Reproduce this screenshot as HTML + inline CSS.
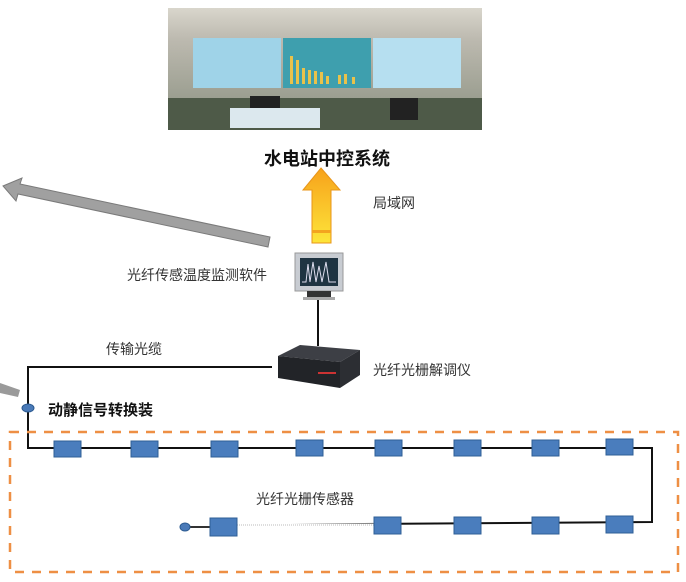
<!DOCTYPE html>
<html><head><meta charset="utf-8"><style>
body{margin:0;width:686px;height:582px;background:#fff;position:relative;overflow:hidden;font-family:"Liberation Sans","Noto Sans CJK SC",sans-serif;color:#333}
.t{position:absolute;white-space:nowrap}
</style></head><body>
<svg width="686" height="582" style="position:absolute;left:0;top:0">
<defs>
<linearGradient id="og" x1="0" y1="0" x2="0" y2="1"><stop offset="0" stop-color="#f7a21b"/><stop offset="1" stop-color="#fde53a"/></linearGradient>
<linearGradient id="sky" x1="0" y1="0" x2="0" y2="1"><stop offset="0" stop-color="#d9d6cc"/><stop offset="0.25" stop-color="#bdbab0"/><stop offset="1" stop-color="#8a9080"/></linearGradient>
</defs>
<rect x="168" y="8" width="314" height="122" fill="url(#sky)"/>
<rect x="193" y="38" width="88" height="50" fill="#9fd3e8"/>
<rect x="283" y="38" width="88" height="50" fill="#3e9fae"/>
<rect x="373" y="38" width="88" height="50" fill="#b6dff0"/>
<g fill="#e9c24a"><rect x="290" y="56" width="3" height="28"/><rect x="296" y="60" width="3" height="24"/><rect x="302" y="68" width="3" height="16"/><rect x="308" y="70" width="3" height="14"/><rect x="314" y="71" width="3" height="13"/><rect x="320" y="72" width="3" height="12"/><rect x="326" y="76" width="3" height="8"/><rect x="338" y="75" width="3" height="9"/><rect x="344" y="74" width="3" height="10"/><rect x="352" y="77" width="3" height="7"/></g>
<rect x="168" y="98" width="314" height="32" fill="#4e5a48"/>
<rect x="230" y="108" width="90" height="20" fill="#dce8ee"/>
<rect x="250" y="96" width="30" height="12" fill="#222"/>
<rect x="390" y="98" width="28" height="22" fill="#222"/>
<!-- gray arrow -->
<polygon points="270,237 20,184 22,178 3,186 16,201 18,194 268,247" fill="#a0a0a0" stroke="#7a7a7a" stroke-width="1"/>
<polygon points="0,383 20,390 18,397 0,393" fill="#9a9a9a"/>
<polygon points="321,168 340,190 331,190 331,243 312,243 312,190 303,190" fill="url(#og)" stroke="#e8951a" stroke-width="1"/>
<rect x="312" y="230" width="19" height="3" fill="#f3a41f"/>
<rect x="295" y="253" width="48" height="38" fill="#c8ccd2" stroke="#999"/>
<rect x="300" y="258" width="38" height="28" fill="#1f3442"/>
<polyline points="302,282 306,282 308,264 310,282 313,262 316,282 319,266 322,282 326,262 329,282 336,282" fill="none" stroke="#dde" stroke-width="1"/>
<rect x="307" y="291" width="24" height="7" fill="#333"/>
<rect x="303" y="297" width="32" height="3" fill="#aaa"/>
<line x1="318" y1="300" x2="318" y2="346" stroke="#111" stroke-width="2"/>
<polygon points="278,356 300,345 360,350 340,362" fill="#3d3f45"/>
<polygon points="278,356 340,362 340,388 278,378" fill="#222428"/>
<polygon points="340,362 360,350 360,375 340,388" fill="#2c2e33"/>
<rect x="318" y="372" width="18" height="2" fill="#c33"/>
<polyline points="272,367 28,367 28,448 652,448 652,522 210,525" fill="none" stroke="#111" stroke-width="2"/>
<line x1="237" y1="525" x2="374" y2="525" stroke="#fff" stroke-width="3"/>
<line x1="237" y1="525" x2="374" y2="525" stroke="#bbb" stroke-width="1" stroke-dasharray="1,1"/>
<line x1="187" y1="527" x2="210" y2="527" stroke="#333" stroke-width="2"/>
<ellipse cx="185" cy="527" rx="5" ry="4" fill="#4a7ab8" stroke="#2b5a90"/>
<ellipse cx="28" cy="408" rx="6" ry="4" fill="#4a7ab8" stroke="#2b5a90"/>
<rect x="10" y="432" width="668" height="140" fill="none" stroke="#ee8f44" stroke-width="2.5" stroke-dasharray="9,8"/>
<g fill="#4a7dbd" stroke="#2f5f96" stroke-width="1">
<rect x="54" y="441" width="27" height="16"/><rect x="131" y="441" width="27" height="16"/><rect x="211" y="441" width="27" height="16"/><rect x="296" y="440" width="27" height="16"/><rect x="375" y="440" width="27" height="16"/><rect x="454" y="440" width="27" height="16"/><rect x="532" y="440" width="27" height="16"/><rect x="606" y="439" width="27" height="16"/>
<rect x="210" y="518" width="27" height="18"/><rect x="374" y="517" width="27" height="17"/><rect x="454" y="517" width="27" height="17"/><rect x="532" y="517" width="27" height="17"/><rect x="606" y="516" width="27" height="17"/>
</g>
</svg>
<div class="t" style="left:264px;top:145px;font-size:18px;font-weight:bold;color:#111">水电站中控系统</div>
<div class="t" style="left:373px;top:193px;font-size:14px">局域网</div>
<div class="t" style="left:127px;top:265px;font-size:14px">光纤传感温度监测软件</div>
<div class="t" style="left:106px;top:339px;font-size:14px">传输光缆</div>
<div class="t" style="left:373px;top:360px;font-size:14px">光纤光栅解调仪</div>
<div class="t" style="left:48px;top:399px;font-size:15px;font-weight:bold;color:#111">动静信号转换装</div>
<div class="t" style="left:256px;top:489px;font-size:14px">光纤光栅传感器</div>
</body></html>
